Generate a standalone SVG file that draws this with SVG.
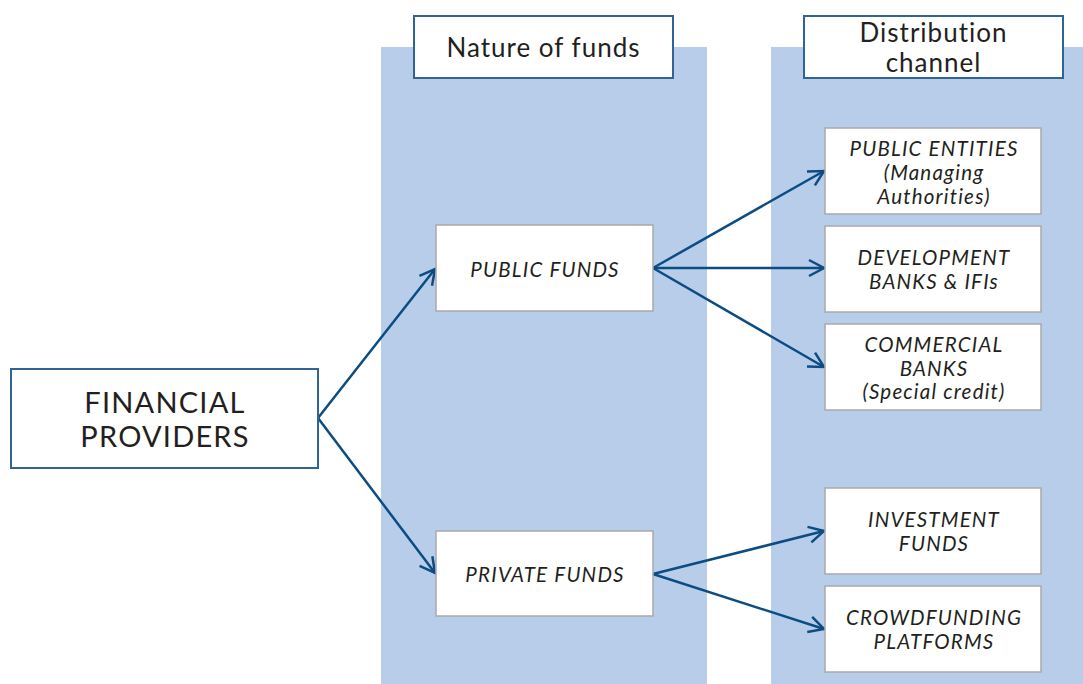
<svg xmlns="http://www.w3.org/2000/svg" width="1083" height="684" viewBox="0 0 1083 684">
<style>
.col{fill:#b7cdea}
.hdr{fill:#fff;stroke:#2e6496;stroke-width:2}
.box{fill:#fff;stroke:#a9a9a9;stroke-width:1.5}
.t{font-family:Lato,"Liberation Sans",sans-serif;fill:#231f20;text-anchor:middle}
.h{font-size:26px;letter-spacing:1px}
.i{font-size:20.5px;font-style:italic;letter-spacing:1.2px}
.big{font-size:29px;letter-spacing:1.2px}
.conn{stroke:#0d4c82;stroke-width:2.5;fill:none;marker-end:url(#ah)}
</style>
<defs>
<marker id="ah" markerUnits="userSpaceOnUse" markerWidth="20" markerHeight="20" viewBox="-16 -10 20 20" refX="0" refY="0" orient="auto">
<path d="M-15,-8 L0,0 L-15,8" fill="none" stroke="#0d4c82" stroke-width="2.5"/>
</marker>
</defs>
<rect width="1083" height="684" fill="#fff"/>
<rect class="col" x="381" y="47" width="326" height="637"/>
<rect class="col" x="771" y="47" width="312" height="637"/>
<g id="hdr-nature">
<rect class="hdr" x="414" y="16" width="259" height="62"/>
<text class="t h" x="543.5" y="57">Nature of funds</text>
</g>
<g id="hdr-distribution">
<rect class="hdr" x="804" y="16" width="259" height="62"/>
<text class="t h" x="933.5" y="42">Distribution</text>
<text class="t h" x="933.5" y="72">channel</text>
</g>
<g id="connectors">
<line class="conn" x1="318" y1="418" x2="435" y2="269"/>
<line class="conn" x1="318" y1="418" x2="435" y2="573"/>
<line class="conn" x1="653" y1="268" x2="824" y2="171"/>
<line class="conn" x1="653" y1="268" x2="824" y2="268"/>
<line class="conn" x1="653" y1="268" x2="824" y2="367"/>
<line class="conn" x1="653" y1="574" x2="824" y2="531"/>
<line class="conn" x1="653" y1="574" x2="824" y2="629"/>
</g>
<g id="financial-providers">
<rect class="hdr" x="11" y="369" width="307" height="99" stroke-width="1.5"/>
<text class="t big" x="165" y="413">FINANCIAL</text>
<text class="t big" x="165" y="447">PROVIDERS</text>
</g>
<g id="public-funds">
<rect class="box" x="436" y="225" width="217" height="86"/>
<text class="t i" x="545" y="277">PUBLIC FUNDS</text>
</g>
<g id="private-funds">
<rect class="box" x="436" y="531" width="217" height="85"/>
<text class="t i" x="545" y="582">PRIVATE FUNDS</text>
</g>
<g id="public-entities">
<rect class="box" x="825" y="128" width="216" height="86"/>
<text class="t i" x="934" y="156">PUBLIC ENTITIES</text>
<text class="t i" x="934" y="180">(Managing</text>
<text class="t i" x="934" y="204">Authorities)</text>
</g>
<g id="development-banks">
<rect class="box" x="825" y="226" width="216" height="86"/>
<text class="t i" x="934" y="265">DEVELOPMENT</text>
<text class="t i" x="934" y="289">BANKS &amp; IFIs</text>
</g>
<g id="commercial-banks">
<rect class="box" x="825" y="324" width="216" height="86"/>
<text class="t i" x="934" y="352">COMMERCIAL</text>
<text class="t i" x="934" y="376">BANKS</text>
<text class="t i" x="934" y="399">(Special credit)</text>
</g>
<g id="investment-funds">
<rect class="box" x="825" y="488" width="216" height="86"/>
<text class="t i" x="934" y="527">INVESTMENT</text>
<text class="t i" x="934" y="551">FUNDS</text>
</g>
<g id="crowdfunding">
<rect class="box" x="825" y="586" width="216" height="86"/>
<text class="t i" x="934" y="625">CROWDFUNDING</text>
<text class="t i" x="934" y="649">PLATFORMS</text>
</g>
</svg>
